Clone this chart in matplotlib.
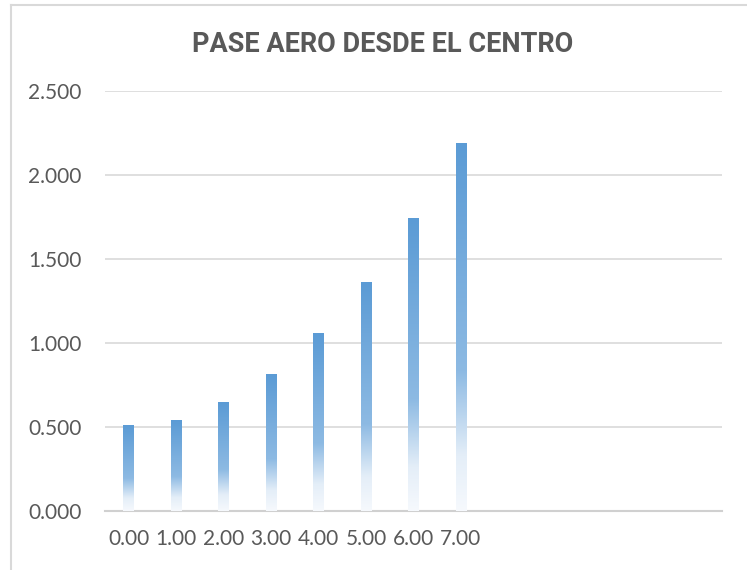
import numpy as np
import matplotlib
matplotlib.use("Agg")
import matplotlib.pyplot as plt
from matplotlib.colors import LinearSegmentedColormap
from matplotlib.lines import Line2D

# Data
categories = ["0.00", "1.00", "2.00", "3.00", "4.00", "5.00", "6.00", "7.00",
              "", "", "", "", ""]
values = [0.506, 0.536, 0.643, 0.815, 1.054, 1.363, 1.744, 2.185]
y_ticks = [0.0, 0.5, 1.0, 1.5, 2.0, 2.5]
y_tick_labels = ["0.000", "0.500", "1.000", "1.500", "2.000", "2.500"]
title = "PASE AERO DESDE EL CENTRO"

text_color = "#595959"
grid_color = "#D9D9D9"

# Vertical gradient fill: blue at the top of each bar fading to white at the base
grad_cmap = LinearSegmentedColormap.from_list(
    "bar_grad",
    [(0.0, "#F6F9FD"), (0.15, "#E4EEF8"), (0.38, "#8DBAE3"), (1.0, "#5B9BD5")],
)
grad = np.linspace(0, 1, 256).reshape(-1, 1)

fig = plt.figure(figsize=(7.47, 5.70), dpi=100)
ax = fig.add_axes([105 / 747, 1 - 511 / 570, 617 / 747, 420 / 570])

bar_width = 0.23
x = np.arange(len(categories))
bars = ax.bar(x[: len(values)], values, width=bar_width, color="none",
              edgecolor="none", zorder=3)
for rect in bars:
    x0, y0 = rect.get_x(), rect.get_y()
    w, h = rect.get_width(), rect.get_height()
    ax.imshow(grad, cmap=grad_cmap, origin="lower", aspect="auto",
              extent=(x0, x0 + w, y0, y0 + h), zorder=3, interpolation="bilinear")

ax.set_xlim(-0.5, len(categories) - 0.5)
ax.set_ylim(0, 2.5)
ax.set_xticks(x)
ax.set_xticklabels(categories)
ax.set_yticks(y_ticks)
ax.set_yticklabels(y_tick_labels)

for lab in ax.get_xticklabels() + ax.get_yticklabels():
    lab.set_fontfamily(["Lato", "DejaVu Sans"])
    lab.set_fontsize(15)
    lab.set_color(text_color)

ax.tick_params(axis="both", length=0)
ax.tick_params(axis="y", pad=17)
ax.tick_params(axis="x", pad=13)

ax.grid(axis="y", color=grid_color, linewidth=1.2, zorder=0)
ax.set_axisbelow(True)
for side in ["top", "right", "left"]:
    ax.spines[side].set_visible(False)
ax.spines["bottom"].set_color("#D0D0D0")
ax.spines["bottom"].set_linewidth(1.5)

fig.text(383 / 747, 1 - 44 / 570, title, ha="center", va="center",
         fontsize=19.5, fontweight="bold", color=text_color,
         family=["Roboto", "DejaVu Sans"])

# Chart frame (left and top edges)
fig.add_artist(Line2D([11 / 747, 11 / 747], [0, 1 - 5 / 570],
                      transform=fig.transFigure, color=grid_color, linewidth=1.5))
fig.add_artist(Line2D([11 / 747, 1], [1 - 5 / 570, 1 - 5 / 570],
                      transform=fig.transFigure, color=grid_color, linewidth=1.5))

fig.savefig("out.png", dpi=100, facecolor="white")
